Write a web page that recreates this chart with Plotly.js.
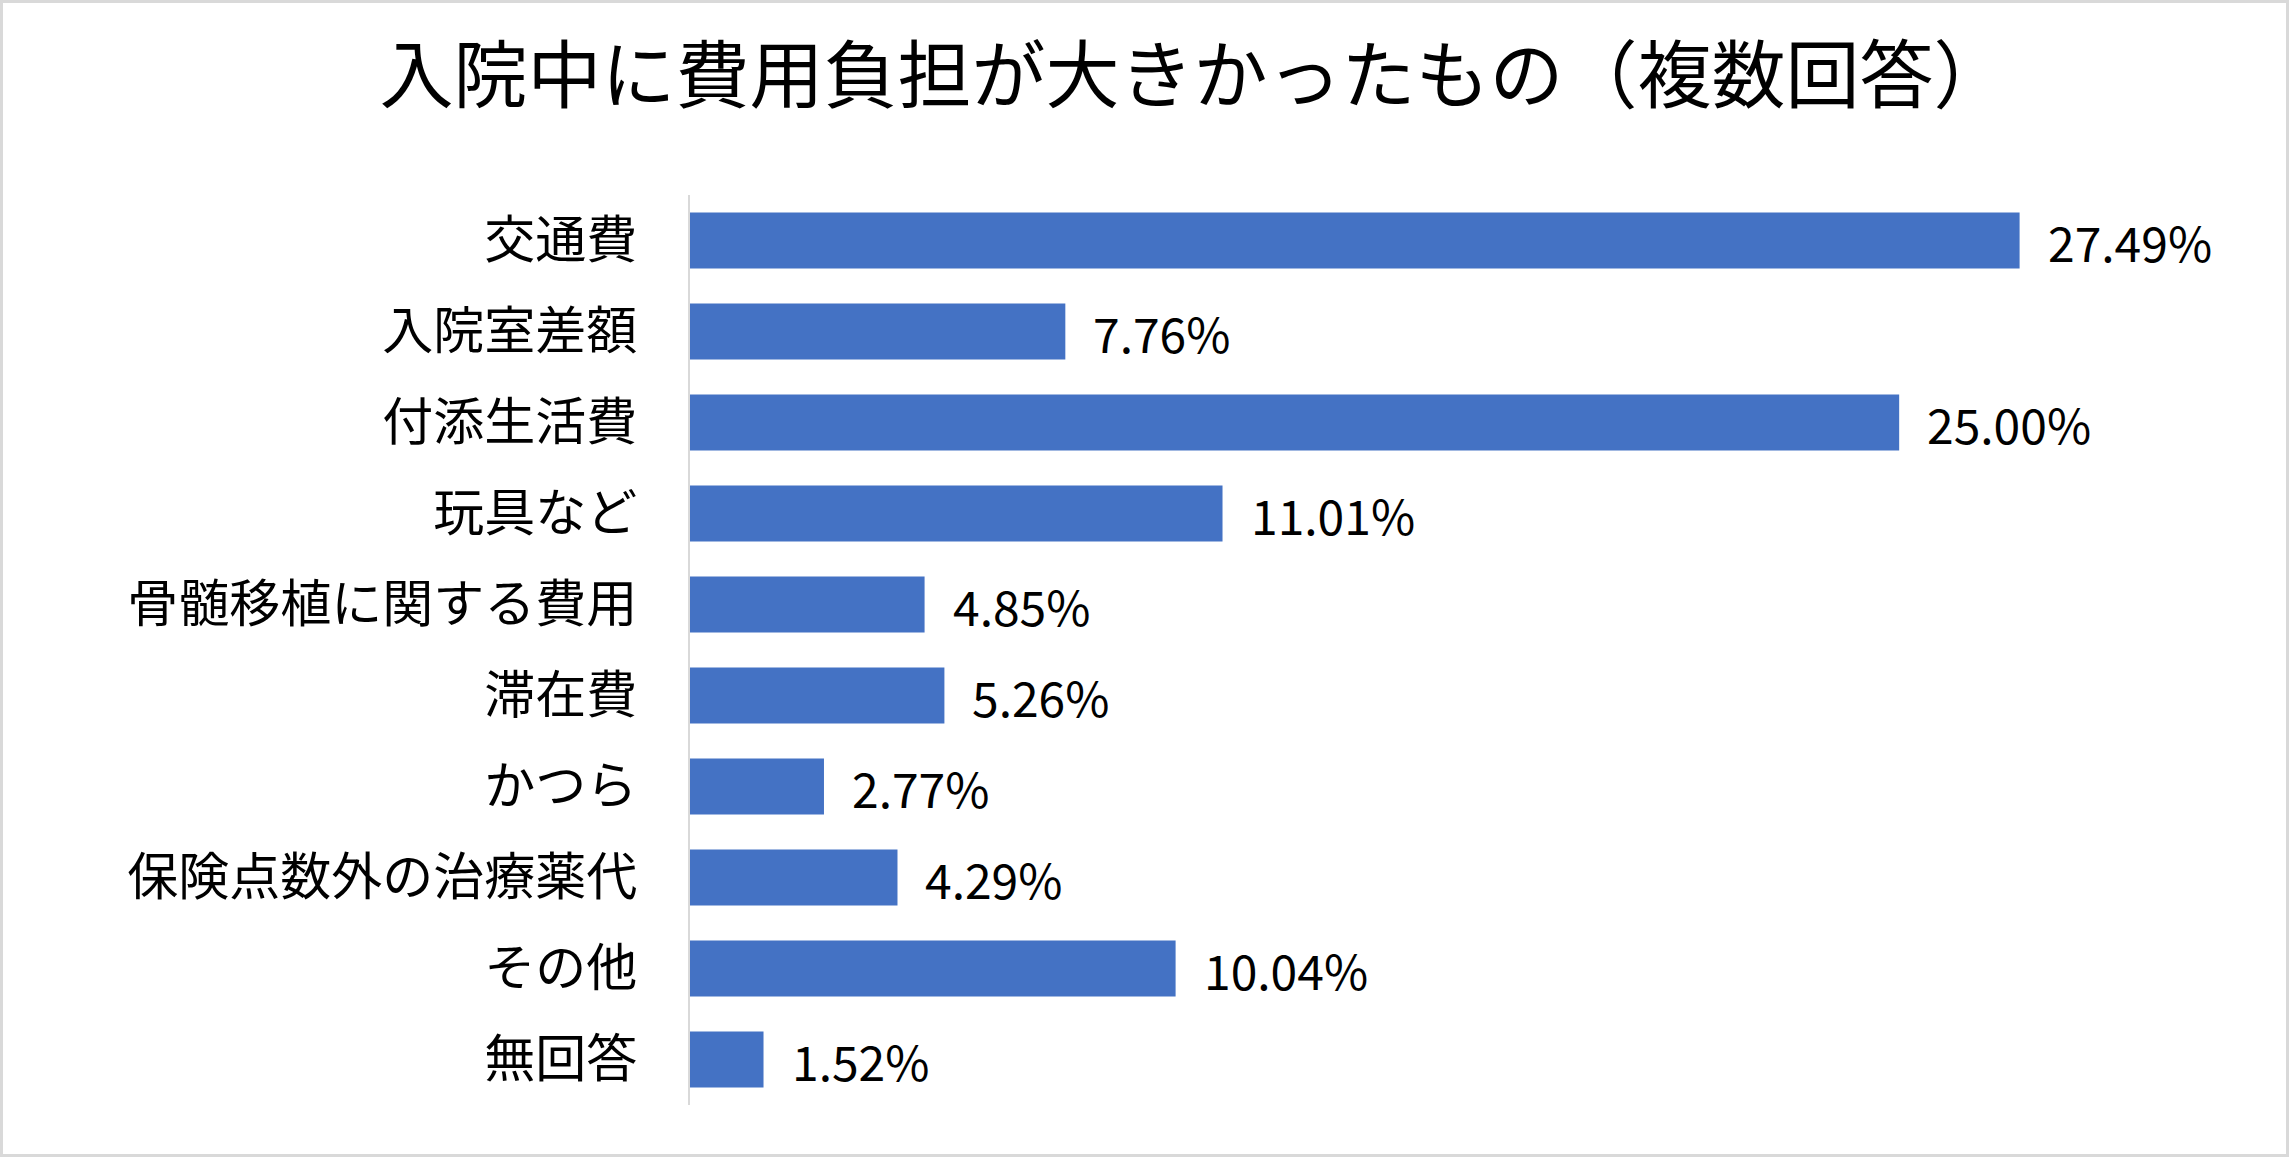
<!DOCTYPE html>
<html>
<head>
<meta charset="utf-8">
<script src="https://cdn.plot.ly/plotly-3.0.1.min.js"></script>
<style>
  html, body { margin: 0; padding: 0; background: #fff; }
  #wrap { position: relative; width: 2289px; height: 1157px; }
  #chart { width: 2289px; height: 1157px; }
  #frame { position: absolute; left: 0; top: 0; width: 2289px; height: 1157px;
           box-sizing: border-box; border: 3px solid #d9d9d9; pointer-events: none; }
</style>
</head>
<body>
<div id="wrap">
  <div id="chart"></div>
  <div id="frame"></div>
</div>
<script>
const categories = ["交通費", "入院室差額", "付添生活費", "玩具など", "骨髄移植に関する費用",
                    "滞在費", "かつら", "保険点数外の治療薬代", "その他", "無回答"];
const values = [27.49, 7.76, 25.00, 11.01, 4.85, 5.26, 2.77, 4.29, 10.04, 1.52];
const labels = values.map(v => v.toFixed(2) + "%");
const titleText = "入院中に費用負担が大きかったもの（複数回答）";

const FONT = "'Noto Sans CJK JP', 'Noto Sans', sans-serif";

const trace = {
  type: "bar",
  orientation: "h",
  y: categories,
  x: values,
  marker: { color: "#4472C4", line: { width: 0 } },
  hoverinfo: "skip"
};

const annotations = values.map((v, i) => ({
  x: v, y: categories[i], xref: "x", yref: "y",
  text: labels[i], showarrow: false,
  xanchor: "left", yanchor: "middle", xshift: 26,
  font: { family: FONT, size: 48, color: "#000000" }
}));

const layout = {
  width: 2289, height: 1157,
  paper_bgcolor: "#ffffff", plot_bgcolor: "#ffffff",
  margin: { l: 690, r: 148, t: 195, b: 52 },
  font: { family: FONT, color: "#000000" },
  title: {
    text: titleText,
    font: { family: FONT, size: 74, color: "#000000" },
    x: 0.5214, xanchor: "center", xref: "container",
    y: 1 - 76 / 1157, yanchor: "middle", yref: "container"
  },
  showlegend: false,
  bargap: 0.385,
  xaxis: {
    range: [0, 30], showgrid: false, zeroline: false, showline: false,
    showticklabels: false, ticks: "", fixedrange: true
  },
  yaxis: {
    autorange: "reversed", type: "category",
    showgrid: false, zeroline: false,
    showline: true, linecolor: "#d9d9d9", linewidth: 2.5,
    ticks: "outside", ticklen: 40, tickcolor: "rgba(0,0,0,0)",
    tickfont: { family: FONT, size: 51, color: "#000000" },
    fixedrange: true
  },
  annotations: annotations
};

Plotly.newPlot("chart", [trace], layout, { displayModeBar: false, staticPlot: true });
</script>
</body>
</html>
